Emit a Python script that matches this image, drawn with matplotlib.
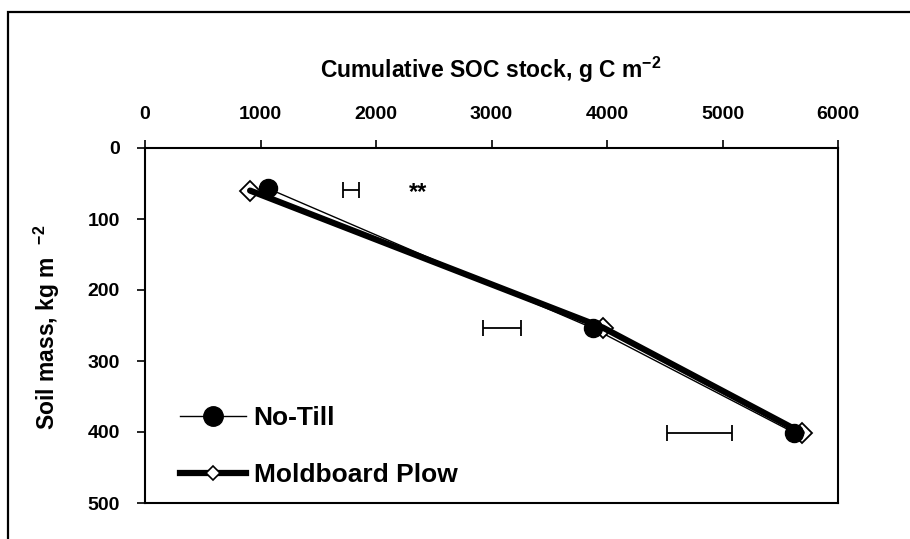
import matplotlib
matplotlib.use('Agg')
import matplotlib.pyplot as plt
from matplotlib.lines import Line2D
from matplotlib.patches import Rectangle

plt.rcParams['font.family'] = ['Liberation Sans', 'DejaVu Sans']
plt.rcParams['font.weight'] = 'bold'
plt.rcParams['mathtext.fontset'] = 'custom'
plt.rcParams['mathtext.rm'] = 'Liberation Sans:bold'
plt.rcParams['mathtext.bf'] = 'Liberation Sans:bold'
plt.rcParams['mathtext.default'] = 'rm'

# data
nt_soc = [1065, 3880, 5620]      # No-Till, g C m-2
nt_mass = [57, 254, 401]         # kg m-2
mp_soc = [910, 3965, 5685]       # Moldboard Plow
mp_mass = [60, 253, 401]
err_x = [1783, 3090, 4801]       # error bar centres
err_y = [59, 254, 401]
err_half = [70, 165, 281]
xticks = [0, 1000, 2000, 3000, 4000, 5000, 6000]
yticks = [0, 100, 200, 300, 400, 500]

fig = plt.figure(figsize=(9.1, 5.39), dpi=100)
fig.patch.set_facecolor('white')

# outer frame (cut off at right/bottom like the source)
fig.patches.append(Rectangle((8/910, -0.2), 1.2, 1 - 12/539 + 0.2, transform=fig.transFigure,
                             fill=False, edgecolor='black', linewidth=1.6, clip_on=False))

ax = fig.add_axes([145/910, 1 - 503/539, 693/910, 355/539])
ax.set_xlim(0, 6000)
ax.set_ylim(500, 0)

ax.plot(nt_soc, nt_mass, color='black', linewidth=1.0, zorder=2)
ax.plot(mp_soc, mp_mass, linestyle='none', marker='D', markersize=10,
        markerfacecolor='white', markeredgecolor='black', markeredgewidth=1.3, zorder=3)
ax.plot(nt_soc, nt_mass, linestyle='none', marker='o', markersize=13,
        markerfacecolor='black', markeredgecolor='black', zorder=4)
ax.plot(mp_soc, mp_mass, color='black', linewidth=4.5, solid_capstyle='round', zorder=5)

ax.errorbar(err_x, err_y, xerr=err_half, fmt='none', ecolor='black', elinewidth=1.3,
            capsize=6, capthick=1.3, zorder=2)
ax.text(2360, 62, '**', fontsize=17, fontweight='bold', ha='center', va='center')

ax.xaxis.tick_top()
ax.xaxis.set_label_position('top')
ax.set_xticks(xticks)
ax.set_yticks(yticks)
ax.tick_params(axis='both', direction='out', length=6, width=1.2, pad=12,
               labelsize=14, colors='black')
for s in ax.spines.values():
    s.set_linewidth(1.5)
    s.set_color('black')

fig.text(491/910, 1 - 70/539, 'Cumulative SOC stock, g C m$^{-2}$', ha='center', va='center',
         fontsize=16.5, fontweight='bold')
fig.text(47/910, 1 - 327/539, 'Soil mass, kg m  $^{-2}$', ha='center', va='center',
         rotation=90, fontsize=16.5, fontweight='bold')

handles = [
    Line2D([], [], color='black', linewidth=1.0, marker='o', markersize=14,
           markerfacecolor='black'),
    Line2D([], [], color='black', linewidth=4.5, marker='D', markersize=7,
           markerfacecolor='white', markeredgecolor='black', markeredgewidth=1.2),
]
leg = ax.legend(handles, ['No-Till', 'Moldboard Plow'], loc='lower left',
                bbox_to_anchor=(0.035, 0.014), frameon=False, fontsize=19,
                handlelength=2.5, handletextpad=0.3, labelspacing=1.25, borderaxespad=0)
for t in leg.get_texts():
    t.set_fontweight('bold')

fig.savefig('out.png', dpi=100, facecolor='white')
